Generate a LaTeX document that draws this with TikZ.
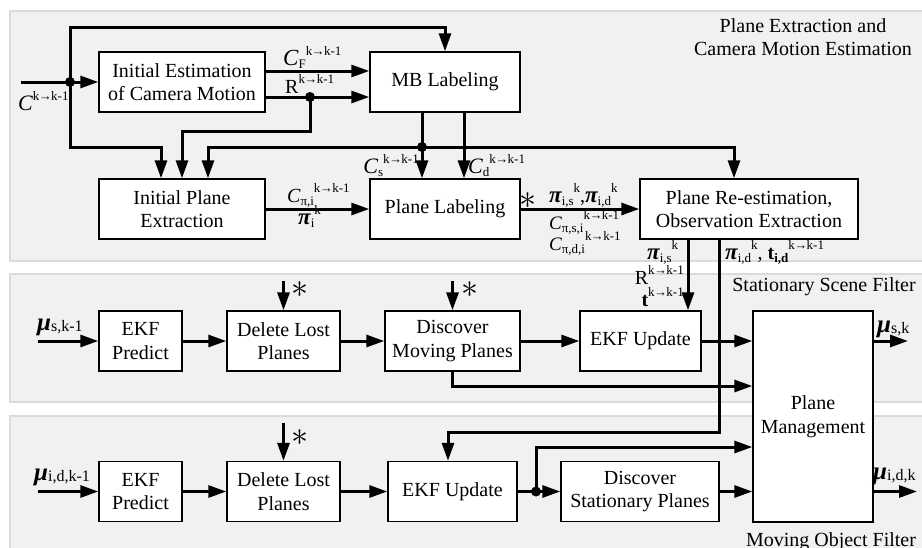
\documentclass[tikz,border=0pt]{standalone}
\usepackage{graphicx}
\usepackage{fontspec}
\setmainfont{Liberation Serif}
\usetikzlibrary{arrows.meta}
\newcommand\lsup[1]{\raisebox{10pt}{\fontsize{13}{13}\selectfont #1}}
\newcommand\lsub[1]{\raisebox{-3pt}{\fontsize{13}{13}\selectfont #1}}
\newcommand\musub[1]{\raisebox{-1pt}{\fontsize{16}{16}\selectfont #1}}
\newcommand\kk{k\kern-0.6pt→\kern-0.6pt k-1}
\newcommand\bigC[1][22]{{\fontsize{#1}{#1}\selectfont\itshape C}}
\newcommand\bpi{{\fontsize{23}{23}\selectfont\bfseries\itshape π}}
\newcommand\bmu{{\fontsize{25}{25}\selectfont\bfseries\itshape μ}}
\newcommand\bigstar{\scalebox{3.4}{$\ast$}}
\definecolor{panelfill}{RGB}{241,241,241}
\definecolor{panelline}{RGB}{218,218,218}
\begin{document}
\begin{tikzpicture}[x=1pt,y=-1pt,
  box/.style={draw,fill=white,line width=1.4pt,align=center,inner sep=0pt,
    minimum height=60pt,font=\fontsize{20}{23.5}\selectfont},
  arr/.style={line width=3pt,-{Triangle[length=18pt,width=12pt]}},
  panel/.style={fill=panelfill,draw=panelline,line width=1.5pt},
  lbl/.style={inner sep=0pt,font=\fontsize{20}{23.5}\selectfont},
  starlbl/.style={inner sep=0pt}]
\useasboundingbox (0,0) rectangle (922,547);
% panels
\path[panel] (10,11) rectangle (930,261);
\path[panel] (10,274) rectangle (930,402);
\path[panel] (10,416) rectangle (930,560);
% titles
\node[lbl,align=center] (title1) at (803,37) {Plane Extraction and\\Camera Motion Estimation};
\node[lbl,anchor=base] (title2) at (824,291) {Stationary Scene Filter};
\node[lbl,anchor=base] (title3) at (831,546) {Moving Object Filter};
% boxes
\node[box,minimum width=166pt] (ie) at (182,82) {Initial Estimation\\of Camera Motion};
\node[box,minimum width=150pt] (mb) at (445,82) {MB Labeling};
\node[box,minimum width=166pt] (ipe) at (182,209) {Initial Plane\\Extraction};
\node[box,minimum width=150pt] (pl) at (445,209) {Plane Labeling};
\node[box,minimum width=218pt] (pr) at (749,209) {Plane Re-estimation,\\Observation Extraction};
\node[box,minimum width=83pt] (ep1) at (140.5,341) {EKF\\Predict};
\node[box,minimum width=113pt] (dl1) at (283.5,341) {Delete Lost\\Planes};
\node[box,minimum width=135pt] (dm) at (452.5,341) {Discover\\Moving Planes};
\node[box,minimum width=121pt] (eu1) at (640.5,341) {EKF Update};
\node[box,minimum width=120pt,minimum height=211pt] (pm) at (813,416.5) {Plane\\Management};
\node[box,minimum width=83pt] (ep2) at (140.5,491.5) {EKF\\Predict};
\node[box,minimum width=113pt] (dl2) at (283.5,491.5) {Delete Lost\\Planes};
\node[box,minimum width=129pt] (eu2) at (452.5,491.5) {EKF Update};
\node[box,minimum width=158pt] (ds) at (640,491.5) {Discover\\Stationary Planes};
% coordinates
\coordinate (cin) at (21,82);
\coordinate (j1) at (70,82);
\coordinate (t1) at (70,27);
\coordinate (b1) at (161,147);
\coordinate (j2) at (310,97);
\coordinate (b2) at (310,131);
\coordinate (j3) at (422,147);
\coordinate (b3) at (464,147);
\coordinate (b9) at (208,147);
\coordinate (b10) at (734,147);
\coordinate (b4) at (688,300);
\coordinate (b5) at (719,432);
\coordinate (b6) at (448,432);
\coordinate (m1) at (38,341);
\coordinate (m2) at (38,491.5);
\coordinate (s1) at (283.5,281);
\coordinate (s2) at (452.5,281);
\coordinate (s3) at (283.5,423);
\coordinate (b7) at (452.5,386);
\coordinate (j4) at (536,491.5);
\coordinate (b8) at (536,447);
\coordinate (o1) at (908,341);
\coordinate (o2) at (917,491.5);
% connectors: top panel
\draw[arr] (cin) -- (ie.west);
\draw[arr] (j1) -- (t1) -| (mb.north);
\draw[arr] (j1) |- (b1) -- (b1 |- ipe.north);
\draw[arr] ([yshift=11pt]ie.east) -- ([yshift=11pt]mb.west);
\draw[arr] ([yshift=-15pt]ie.east) -- ([yshift=-15pt]mb.west);
\draw[arr] (j2) -- (b2) -| (ipe.north);
\draw[arr] (j3 |- mb.south) -- (j3 |- pl.north);
\draw[arr] (b3 |- mb.south) -- (b3 |- pl.north);
\draw[arr] (j3) -- (b9) -- (b9 |- ipe.north);
\draw[arr] (j3) -- (b10) -- (b10 |- pr.north);
\draw[arr] (ipe.east) -- (pl.west);
\draw[arr] (pl.east) -- (pr.west);
\draw[arr] (pr.south -| b4) -- (b4 |- eu1.north);
\draw[arr] (pr.south -| b5) -- (b5) -- (b6) -- (b6 |- eu2.north);
% stationary scene filter
\draw[arr] (m1) -- (ep1.west);
\draw[arr] (ep1.east) -- (dl1.west);
\draw[arr] (dl1.east) -- (dm.west);
\draw[arr] (dm.east) -- (eu1.west);
\draw[arr] (eu1.east) -- (eu1.east -| pm.west);
\draw[arr] (s1) -- (dl1.north);
\draw[arr] (s2) -- (dm.north);
\draw[arr] (dm.south) -- (b7) -- (b7 -| pm.west);
\draw[arr] (o1 -| pm.east) -- (o1);
% moving object filter
\draw[arr] (m2) -- (ep2.west);
\draw[arr] (ep2.east) -- (dl2.west);
\draw[arr] (dl2.east) -- (eu2.west);
\draw[arr] (eu2.east) -- (ds.west);
\draw[arr] (j4) -- (b8) -- (b8 -| pm.west);
\draw[arr] (ds.east) -- (ds.east -| pm.west);
\draw[arr] (s3) -- (dl2.north);
\draw[arr] (o2 -| pm.east) -- (o2);
% junction dots
\fill (j1) circle (5pt);
\fill (j2) circle (5pt);
\fill (j3) circle (5pt);
\fill (j4) circle (5pt);
% labels
\node[lbl,anchor=base west] (lcin) at (18,110) {\bigC\lsup{\kk}};
\node[lbl,anchor=base west] (lcf) at (283,65) {\bigC[23]\lsub{F}\lsup{\kk}};
\node[lbl,anchor=base west] (lr1) at (285,93) {R\lsup{\kk}};
\node[lbl,anchor=base east] (lcs) at (419,173) {\bigC\lsub{s}\lsup{\kk}};
\node[lbl,anchor=base west] (lcd) at (468,173) {\bigC\lsub{d}\lsup{\kk}};
\node[lbl,anchor=base west] (lcpi) at (287,202) {\bigC[20]\lsub{π,i}\lsup{\kk}};
\node[lbl,anchor=base west] (lpii) at (298,224) {\bpi\lsub{i}\lsup{k}};
\node[starlbl] (star0) at (527.5,200.5) {\bigstar};
\node[lbl,anchor=base west] (lpisd) at (549,202) {\bpi\lsub{i,s}\lsup{k},\bpi\lsub{i,d}\lsup{k}};
\node[lbl,anchor=base west] (lcpsi) at (549,229) {\bigC[19]\lsub{π,s,i}\lsup{\kk}};
\node[lbl,anchor=base west] (lcpdi) at (549,250) {\bigC[19]\lsub{π,d,i}\lsup{\kk}};
\node[lbl,anchor=base west] (lpis) at (647,259) {\bpi\lsub{i,s}\lsup{k}};
\node[lbl,anchor=base east] (lr2) at (684,284) {R\lsup{\kk}};
\node[lbl,anchor=base east] (lt2) at (684,306) {\textbf{t}\lsup{\kk}};
\node[lbl,anchor=base west] (lpid) at (725,259) {\bpi\lsub{i,d}\lsup{k}, \textbf{t}\lsub{\textbf{i,d}}\lsup{\kk}};
\node[lbl,anchor=base west] (lmu1) at (37,330) {\bmu\musub{s,k-1}};
\node[lbl,anchor=base west] (lmu2) at (34,480) {\bmu\musub{i,d,k-1}};
\node[lbl,anchor=base west] (lmu3) at (877,332) {\bmu\musub{s,k}};
\node[lbl,anchor=base west] (lmu4) at (873,479) {\bmu\musub{i,d,k}};
\node[starlbl] (star1) at (300,290) {\bigstar};
\node[starlbl] (star2) at (470,290) {\bigstar};
\node[starlbl] (star3) at (300,438) {\bigstar};
\end{tikzpicture}
\end{document}
